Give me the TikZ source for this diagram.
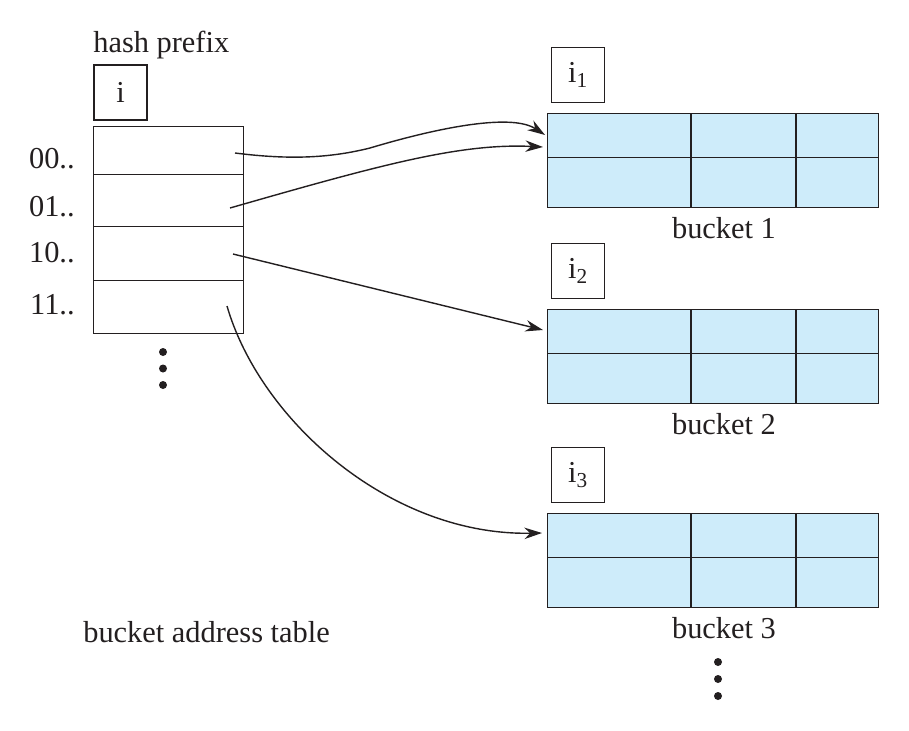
\documentclass[tikz,border=0pt]{standalone}
\usepackage{fontspec}
\setmainfont{Liberation Serif}
\usepackage{xcolor}
\definecolor{ink}{RGB}{35,31,32}
\definecolor{cellblue}{RGB}{206,236,250}
\usepackage{tikz}
\usetikzlibrary{arrows.meta, positioning}

\begin{document}
\begin{tikzpicture}[x=0.02cm, y=-0.02cm,
  lbl/.style={font=\fontsize{17.3}{20}\selectfont, text=ink, inner sep=0pt},
  prefbox/.style={draw=ink, line width=0.8pt,
    minimum width=1.06cm, minimum height=1.1cm, inner sep=0pt,
    font=\fontsize{17.3}{20}\selectfont, text=ink},
  rowbox/.style={draw=ink, line width=0.8pt,
    minimum width=3cm, inner sep=0pt},
  bucketbox/.style={draw=ink, fill=cellblue, line width=0.8pt,
    minimum width=6.62cm, minimum height=1.88cm, inner sep=0pt},
  cellline/.style={draw=ink, line width=0.8pt},
  arr/.style={-{Stealth[length=10pt, width=6.5pt]}, line width=0.8pt, color=ink}]

  \useasboundingbox (0,0) rectangle (909,730);

  % bucket address table
  \node[lbl, anchor=base west] (hp) at (93,52) {hash prefix};
  \node[prefbox] (i0) at (120.5,92.5) {i};
  \foreach \r/\p/\ly/\top/\h in {0/00/159/126/0.96cm, 1/01/207/174/1.04cm,
                                 2/10/253/226/1.08cm, 3/11/305/280/1.06cm} {
    \node[rowbox, minimum height=\h, anchor=north west] (r\r) at (93,\top) {};
    \node[lbl, anchor=east] (l\r) at (75,\ly) {\p..};
  }
  \foreach \d in {0,1,2}
    \fill[ink] (163,352+16.5*\d) circle[radius=0.08cm];
  \node[lbl, anchor=base west] (bat) at (83,642) {bucket address table};

  % buckets
  \foreach \k/\y in {1/113, 2/309, 3/513} {
    \node[bucketbox, anchor=north west] (b\k) at (547,\y) {};
    \draw[cellline] ([yshift=0.06cm]b\k.west) -- ([yshift=0.06cm]b\k.east);
    \draw[cellline] ([xshift=2.88cm]b\k.north west) -- ([xshift=2.88cm]b\k.south west);
    \draw[cellline] ([xshift=4.98cm]b\k.north west) -- ([xshift=4.98cm]b\k.south west);
    \node[prefbox, anchor=south west] (i\k) at (551,\y-10) {i\textsubscript{\k}};
    \node[lbl, anchor=base] (bl\k) at (724,\y+125) {bucket \k};
  }
  \foreach \d in {0,1,2}
    \fill[ink] (718,662+17*\d) circle[radius=0.08cm];

  % pointers
  \coordinate (s0) at (235,153);
  \coordinate (s1) at (230,208);
  \coordinate (s2) at (233,254);
  \coordinate (s3) at (227,306);

  \draw[arr] (s0) .. controls (290,160) and (330,158) .. (370,148)
    .. controls (430,130) and (510,112) .. ([xshift=-0.04cm,yshift=-0.44cm]b1.north west);
  \draw[arr] (s1) .. controls (380,165) and (460,143) .. ([xshift=-0.08cm,yshift=-0.68cm]b1.north west);
  \draw[arr] (s2) -- ([xshift=-0.08cm,yshift=-0.42cm]b2.north west);
  \draw[arr] (s3) .. controls (260,420) and (390,536) .. ([xshift=-0.1cm,yshift=-0.4cm]b3.north west);

\end{tikzpicture}
\end{document}
